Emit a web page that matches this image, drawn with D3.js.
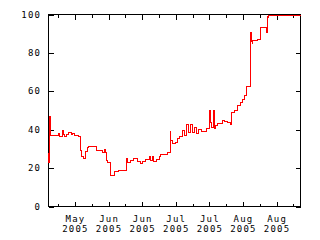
<!DOCTYPE html>
<html>
<head>
<meta charset="utf-8">
<script src="https://cdn.jsdelivr.net/npm/d3@7"></script>
<style>
  body { margin: 0; background: #fff; }
  svg { display: block; }
  text { font-family: "DejaVu Sans Mono", monospace; font-size: 9px; letter-spacing: 1.2px; fill: #000; }
</style>
</head>
<body>
<div id="viz"></div>
<script>
// Data: reading times and values (step series)
const times = [
  "2005-05-18 00:00","2005-05-18 03:00","2005-05-18 08:00","2005-05-18 17:00",
  "2005-05-22 04:00","2005-05-22 14:00","2005-05-23 20:00","2005-05-24 06:00",
  "2005-05-24 16:00","2005-05-25 12:00","2005-05-26 08:00","2005-05-27 14:00",
  "2005-05-28 00:00","2005-05-28 20:00","2005-05-30 12:00","2005-05-31 08:00",
  "2005-05-31 18:00","2005-06-01 14:00","2005-06-02 10:00","2005-06-03 06:00",
  "2005-06-03 16:00","2005-06-07 00:00","2005-06-09 12:00","2005-06-10 08:00",
  "2005-06-10 18:00","2005-06-11 04:00","2005-06-11 14:00","2005-06-12 20:00",
  "2005-06-14 12:00","2005-06-16 04:00","2005-06-19 16:00","2005-06-19 23:00",
  "2005-06-21 08:00","2005-06-22 14:00","2005-06-24 06:00","2005-06-25 12:00",
  "2005-06-26 08:00","2005-06-27 14:00","2005-06-29 06:00","2005-06-29 11:00",
  "2005-06-30 12:00","2005-06-30 17:00","2005-07-02 04:00","2005-07-03 10:00",
  "2005-07-03 20:00","2005-07-06 18:00","2005-07-07 17:00","2005-07-08 00:00",
  "2005-07-08 20:00","2005-07-10 02:00","2005-07-10 22:00","2005-07-11 18:00",
  "2005-07-13 00:00","2005-07-13 20:00","2005-07-14 16:00","2005-07-15 12:00",
  "2005-07-16 08:00","2005-07-17 04:00","2005-07-18 00:00","2005-07-18 20:00",
  "2005-07-19 16:00","2005-07-20 22:00","2005-07-23 00:00","2005-07-24 06:00",
  "2005-07-24 11:00","2005-07-25 02:00","2005-07-25 22:00","2005-07-26 08:00",
  "2005-07-26 18:00","2005-07-27 14:00","2005-07-29 16:00","2005-07-30 12:00",
  "2005-07-31 18:00","2005-08-02 00:00","2005-08-02 07:00","2005-08-03 16:00",
  "2005-08-04 22:00","2005-08-06 04:00","2005-08-07 00:00","2005-08-07 20:00",
  "2005-08-08 16:00","2005-08-10 01:00","2005-08-10 11:00","2005-08-10 21:00",
  "2005-08-11 01:00","2005-08-13 06:00","2005-08-14 12:00","2005-08-16 19:00",
  "2005-08-17 03:00","2005-08-17 10:00","2005-08-17 20:00","2005-08-31 00:00"
];
const values = [
  28, 23, 47, 37,
  38, 36.5, 39.5, 37.5,
  36.5, 37.5, 38.5, 37.5,
  38, 37, 36.5, 29,
  26, 25, 28.5, 30.5,
  31.3, 29, 28.3, 29.5,
  28.3, 24, 23, 16,
  18, 19, 24.8, 23,
  24, 25, 23.5, 22.4,
  23.5, 24.5, 26, 24,
  26, 23.5, 24.7, 26,
  27.3, 28.3, 39, 34.4,
  32.6, 33.3, 35.4, 36.5,
  39.6, 37, 42.7, 38.5,
  42.7, 38.5, 41, 38,
  40, 39, 40.6, 50,
  43.5, 41, 50, 40.6,
  42, 43, 44.8, 44.4,
  43.9, 42.5, 49, 50,
  52.6, 54.3, 55.6, 57.8,
  62.5, 90.8, 86, 84.7,
  86.5, 87.2, 93, 90.8,
  99, 98.3, 99.5, 99.5
];

// Axis ticks
const xDomain = ["2005-05-18 00:00", "2005-08-31 00:00"];
const xMajorTicks = ["2005-05-29","2005-06-12","2005-06-26","2005-07-10","2005-07-24","2005-08-07","2005-08-21"];
const xMinorTicks = ["2005-05-22","2005-06-05","2005-06-19","2005-07-03","2005-07-17","2005-07-31","2005-08-14","2005-08-28"];
const yTicks = [0, 20, 40, 60, 80, 100];

// Chart geometry
const width = 320, height = 240;
const plotLeft = 48.5, plotRight = 300.5, plotTop = 14.5, plotBottom = 206.5;
const majorLen = 5, minorLen = 3;
const letterGap = 1.2; // trailing letter-spacing, compensated when anchoring

const parseTime = d3.timeParse("%Y-%m-%d %H:%M");
const parseDay = d3.timeParse("%Y-%m-%d");
const data = times.map((t, i) => ({date: parseTime(t), value: values[i]}));

const svg = d3.select("#viz").append("svg")
  .attr("width", width)
  .attr("height", height);

const xScale = d3.scaleTime().domain(xDomain.map(parseTime)).range([plotLeft, plotRight]);
const yScale = d3.scaleLinear().domain([0, 100]).range([plotBottom, plotTop]);

// Inward ticks on all four sides
const axG = svg.append("g").attr("shape-rendering", "crispEdges");

axG.append("g").attr("transform", `translate(0,${plotBottom})`)
  .call(d3.axisBottom(xScale).tickValues(xMajorTicks.map(parseDay)).tickSize(-majorLen).tickFormat(""));
axG.append("g").attr("transform", `translate(0,${plotBottom})`)
  .call(d3.axisBottom(xScale).tickValues(xMinorTicks.map(parseDay)).tickSize(-minorLen).tickFormat(""));
axG.append("g").attr("transform", `translate(0,${plotTop})`)
  .call(d3.axisTop(xScale).tickValues(xMajorTicks.map(parseDay)).tickSize(-majorLen).tickFormat(""));
axG.append("g").attr("transform", `translate(0,${plotTop})`)
  .call(d3.axisTop(xScale).tickValues(xMinorTicks.map(parseDay)).tickSize(-minorLen).tickFormat(""));
axG.append("g").attr("transform", `translate(${plotLeft},0)`)
  .call(d3.axisLeft(yScale).tickValues(yTicks).tickSize(-majorLen).tickFormat(""));
axG.append("g").attr("transform", `translate(${plotRight},0)`)
  .call(d3.axisRight(yScale).tickValues(yTicks).tickSize(-majorLen).tickFormat(""));

axG.selectAll(".domain").remove();
axG.selectAll(".tick line").attr("stroke", "#000");

// Frame
axG.append("rect")
  .attr("x", plotLeft).attr("y", plotTop)
  .attr("width", plotRight - plotLeft).attr("height", plotBottom - plotTop)
  .attr("fill", "none").attr("stroke", "#000");

// Y tick labels
svg.selectAll(".ylab")
  .data(yTicks)
  .enter().append("text")
  .attr("class", "ylab")
  .attr("x", 40 + letterGap)
  .attr("y", d => yScale(d) + 3)
  .attr("text-anchor", "end")
  .text(d => d);

// X tick labels (month line, then year line)
const fmtMonth = d3.timeFormat("%b");
const fmtYear = d3.timeFormat("%Y");
const majorDates = xMajorTicks.map(parseDay);

svg.selectAll(".xmonth")
  .data(majorDates)
  .enter().append("text")
  .attr("class", "xmonth")
  .attr("x", d => xScale(d) + letterGap / 2)
  .attr("y", 221.5)
  .attr("text-anchor", "middle")
  .text(fmtMonth);

svg.selectAll(".xyear")
  .data(majorDates)
  .enter().append("text")
  .attr("class", "xyear")
  .attr("x", d => xScale(d) + letterGap / 2)
  .attr("y", 232)
  .attr("text-anchor", "middle")
  .text(fmtYear);

// The line
const line = d3.line()
  .x(d => xScale(d.date))
  .y(d => yScale(d.value))
  .curve(d3.curveStepAfter);

svg.append("path")
  .attr("d", line(data))
  .attr("fill", "none")
  .attr("stroke", "#ff0000")
  .attr("stroke-width", 1)
  .attr("shape-rendering", "crispEdges");
</script>
</body>
</html>
